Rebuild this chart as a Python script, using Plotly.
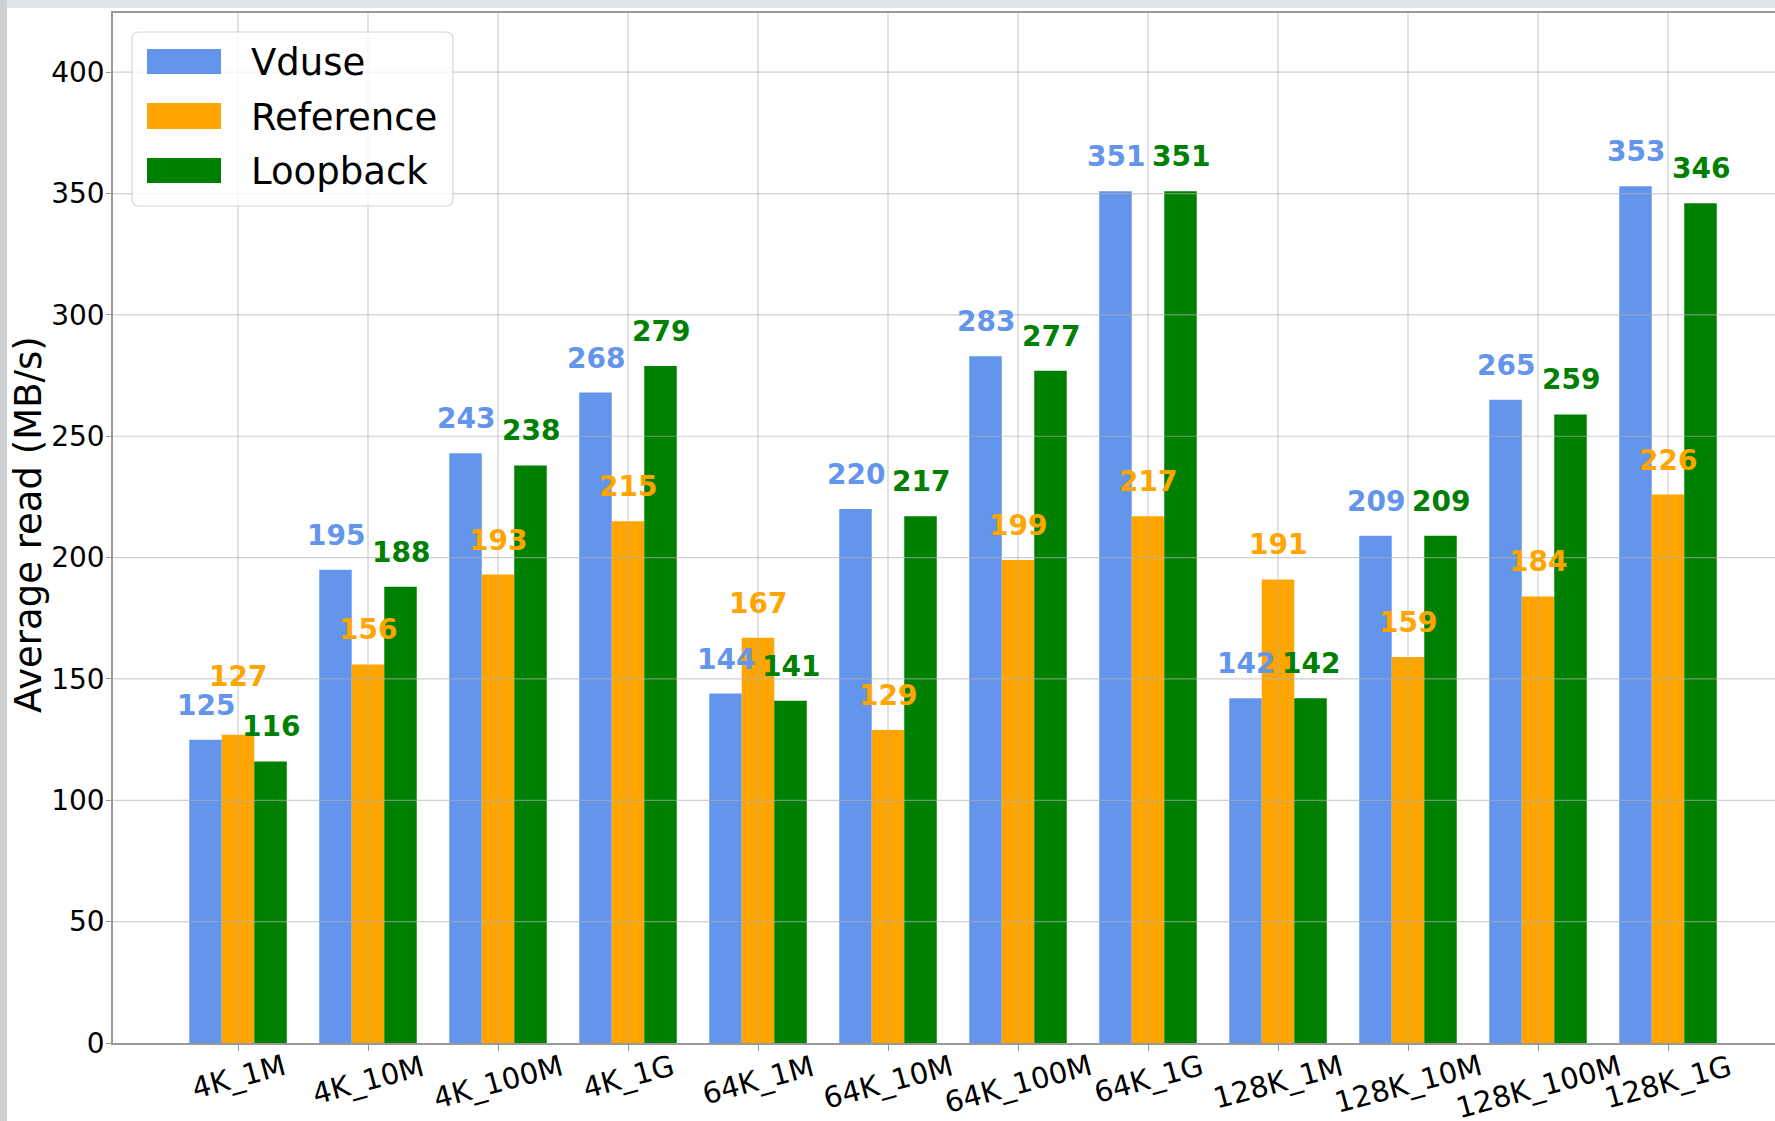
import plotly.graph_objects as go

categories = ["4K_1M", "4K_10M", "4K_100M", "4K_1G", "64K_1M", "64K_10M",
              "64K_100M", "64K_1G", "128K_1M", "128K_10M", "128K_100M", "128K_1G"]
vduse = [125, 195, 243, 268, 144, 220, 283, 351, 142, 209, 265, 353]
reference = [127, 156, 193, 215, 167, 129, 199, 217, 191, 159, 184, 226]
loopback = [116, 188, 238, 279, 141, 217, 277, 351, 142, 209, 259, 346]
series_names = ["Vduse", "Reference", "Loopback"]
y_ticks = [0, 50, 100, 150, 200, 250, 300, 350, 400]

colors = ["#6495ED", "#FFA500", "#008000"]
FONT = "DejaVu Sans"
W, H = 1775, 1121
ML, MR, MT, MB = 113, 0, 13, 78
PW, PH = W - ML - MR, H - MT - MB


def px(x):
    return (x - ML) / PW


def py(y):
    return (H - MB - y) / PH


fig = go.Figure()
all_series = [vduse, reference, loopback]
for name, vals, col in zip(series_names, all_series, colors):
    fig.add_trace(go.Bar(name=name, x=categories, y=vals, marker=dict(color=col, line=dict(width=0)),
                         showlegend=False))

shapes = []
# background strips of the screenshot frame
shapes.append(dict(type="rect", xref="paper", yref="paper", x0=px(0), x1=px(7), y0=py(H), y1=py(0),
                   fillcolor="#cdd1d3", line=dict(width=0), layer="below"))
shapes.append(dict(type="rect", xref="paper", yref="paper", x0=px(7), x1=px(W), y0=py(8), y1=py(0),
                   fillcolor="#e2e5e7", line=dict(width=0), layer="below"))

grid_col = "rgba(176,176,176,0.6)"
for t in y_ticks[1:]:
    shapes.append(dict(type="line", xref="paper", yref="y", x0=0, x1=1, y0=t, y1=t,
                       line=dict(color=grid_col, width=1.2), layer="above"))
for i in range(len(categories)):
    shapes.append(dict(type="line", xref="x", yref="paper", x0=i, x1=i, y0=0, y1=1,
                       line=dict(color=grid_col, width=1.2), layer="above"))

# legend box (rounded)
L, T, R, B, r = 132, 32, 453, 206, 7
path = (f"M{px(L + r)},{py(T)} L{px(R - r)},{py(T)} Q{px(R)},{py(T)} {px(R)},{py(T + r)} "
        f"L{px(R)},{py(B - r)} Q{px(R)},{py(B)} {px(R - r)},{py(B)} "
        f"L{px(L + r)},{py(B)} Q{px(L)},{py(B)} {px(L)},{py(B - r)} "
        f"L{px(L)},{py(T + r)} Q{px(L)},{py(T)} {px(L + r)},{py(T)} Z")
shapes.append(dict(type="path", xref="paper", yref="paper", path=path,
                   fillcolor="rgba(255,255,255,0.8)", line=dict(color="rgba(204,204,204,0.8)", width=1.2),
                   layer="above"))
patch_rows = [(49, 74), (103, 129), (158, 183)]
annotations = []
for (y0, y1), col, name in zip(patch_rows, colors, series_names):
    shapes.append(dict(type="rect", xref="paper", yref="paper", x0=px(147), x1=px(221),
                       y0=py(y1), y1=py(y0), fillcolor=col, line=dict(width=0), layer="above"))
    annotations.append(dict(xref="paper", yref="paper", x=px(249), y=py((y0 + y1) / 2 + 1),
                            xanchor="left", yanchor="middle", text=name, showarrow=False,
                            font=dict(family=FONT, size=37, color="black")))

# bar value labels
offsets = [-0.25, 0.0, 0.25]
label_nudge = {(1, 0): 24}
for j, (vals, col) in enumerate(zip(all_series, colors)):
    for i, v in enumerate(vals):
        annotations.append(dict(xref="x", yref="y", x=i + offsets[j], y=v, text=str(v),
                                xanchor="center", yanchor="bottom", showarrow=False,
                                yshift=16 + label_nudge.get((j, i), 0),
                                font=dict(family=FONT, size=28, color=col, weight="bold")))

# x tick labels (rotated, centered on ticks)
for i, c in enumerate(categories):
    annotations.append(dict(xref="x", yref="paper", x=i, y=0, text=c, textangle=-15,
                            xanchor="center", yanchor="top", yshift=-3, showarrow=False,
                            font=dict(family=FONT, size=29, color="black")))

# y axis title
annotations.append(dict(xref="paper", yref="paper", x=px(28), y=py(525), text="Average read (MB/s)",
                        textangle=-90, xanchor="center", yanchor="middle", showarrow=False,
                        font=dict(family=FONT, size=37, color="black")))

axis_col = "#999999"
fig.update_layout(
    width=W, height=H,
    margin=dict(l=ML, r=MR, t=MT, b=MB, pad=0),
    paper_bgcolor="white", plot_bgcolor="white",
    barmode="group", bargap=0.25, bargroupgap=0,
    font=dict(family=FONT, size=28, color="black"),
    shapes=shapes, annotations=annotations, showlegend=False,
    xaxis=dict(type="category", range=[-0.9615, 11 + (W - 1668) / 130], showgrid=False,
               showline=True, linecolor=axis_col, linewidth=1.5, mirror=True,
               ticks="outside", ticklen=6, tickcolor=axis_col, tickwidth=1.2,
               showticklabels=False, zeroline=False),
    yaxis=dict(range=[0, 424.4], tickvals=y_ticks, showgrid=False, zeroline=False,
               showline=True, linecolor=axis_col, linewidth=1.5, mirror=False,
               ticks="outside", ticklen=5, tickcolor=axis_col, tickwidth=1.2,
               ticklabelstandoff=-4,
               tickfont=dict(family=FONT, size=28, color="black")),
)

fig.write_html("out.html")
